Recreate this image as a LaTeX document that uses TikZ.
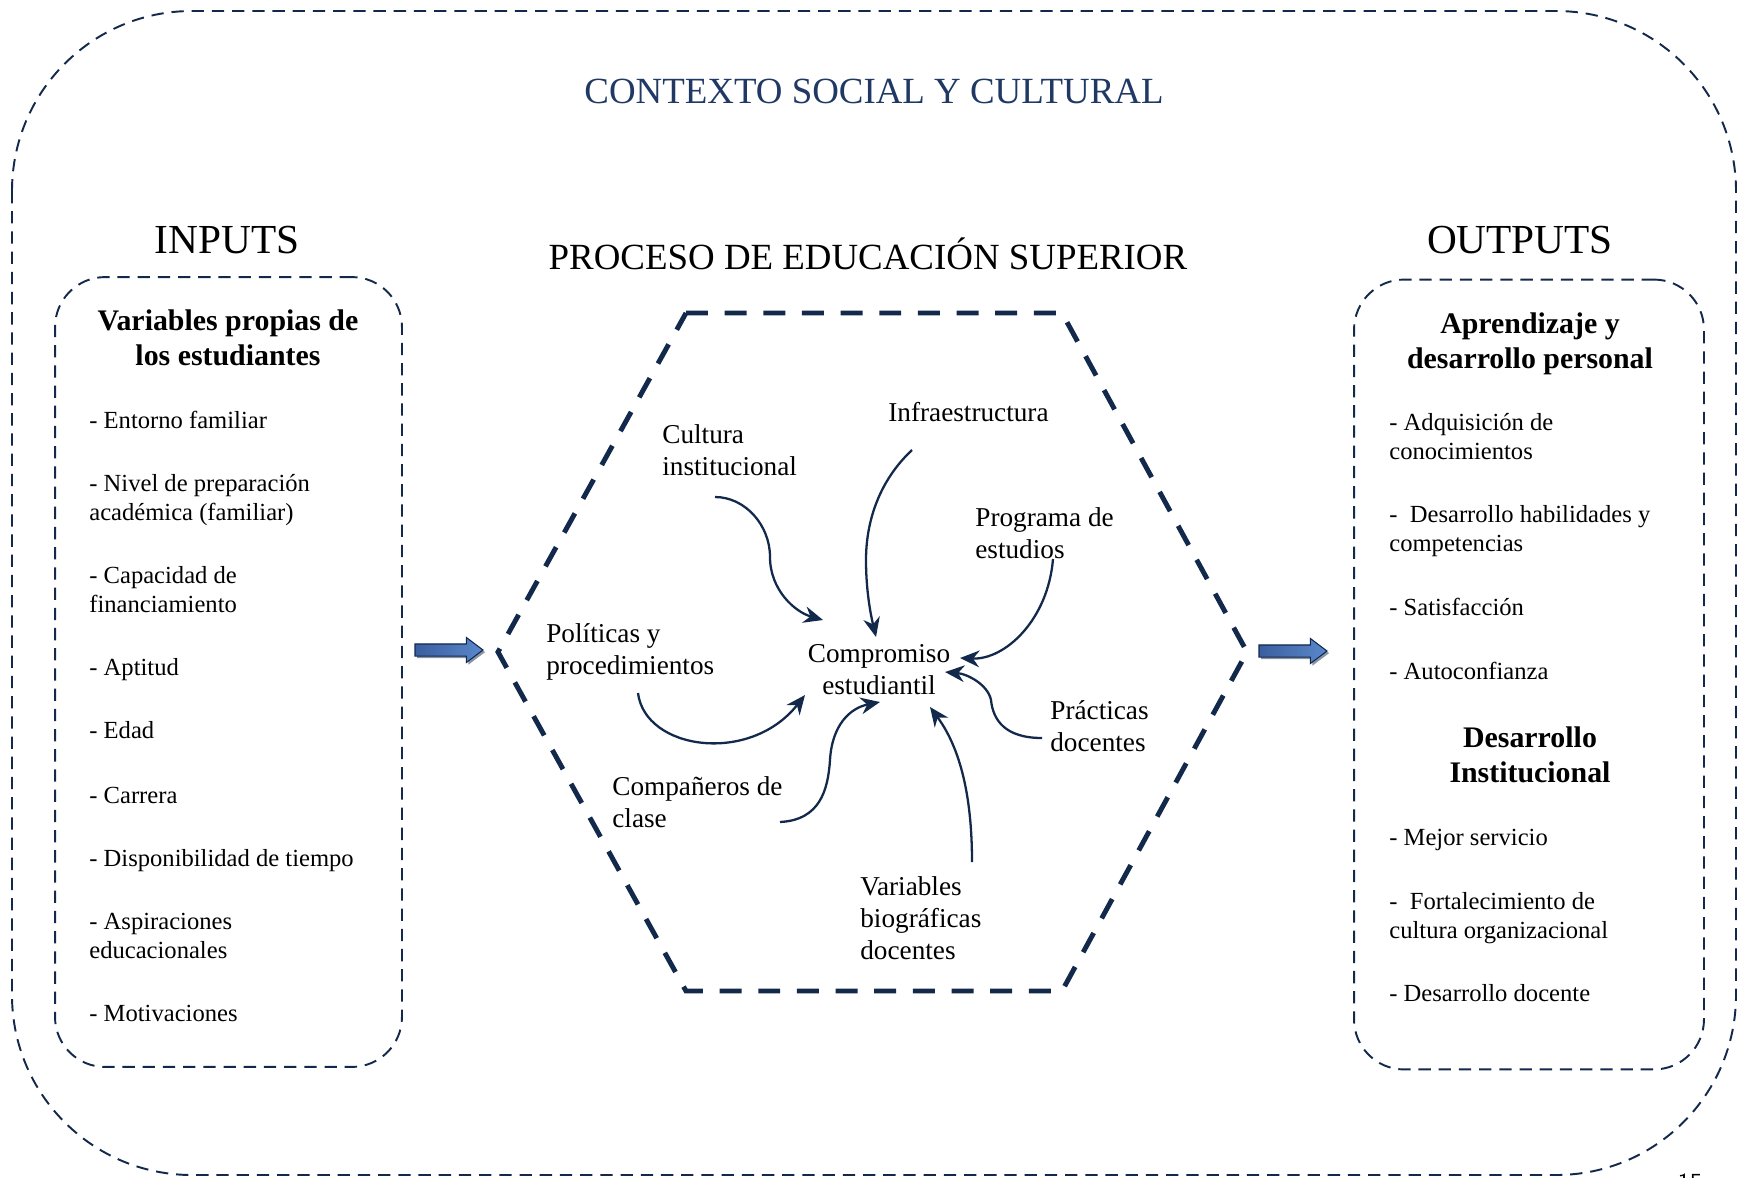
\documentclass[tikz,border=0pt]{standalone}
\usepackage{fontspec}
\setmainfont{Liberation Serif}
\usetikzlibrary{arrows.meta,calc,shapes.arrows,shadows}
\definecolor{azulosc}{HTML}{13294B}
\definecolor{azultit}{HTML}{1F3864}
\definecolor{azulA}{HTML}{3A5F9F}
\definecolor{azulB}{HTML}{5A88CC}

\begin{document}
\begin{tikzpicture}[x=0.02cm, y=-0.02cm]
\tikzset{marco/.style={draw=azulosc, line width=1.1pt, dash pattern=on 7pt off 4.5pt},
caja/.style={marco, rounded corners=1cm, minimum width=6.94cm, minimum height=15.8cm, inner sep=0pt},
hexa/.style={draw=azulosc, line width=2.8pt, dash pattern=on 12.5pt off 9.5pt},
titulo/.style={anchor=base, inner sep=0pt, font=\fontsize{21}{25}\selectfont},
cabeza/.style={anchor=base, align=center, inner sep=0pt, font=\bfseries\fontsize{17}{19.8}\selectfont},
item/.style={anchor=base west, align=left, inner sep=0pt, font=\fontsize{14}{16.4}\selectfont},
factor/.style={anchor=base west, align=left, inner sep=0pt, font=\fontsize{15.5}{18.2}\selectfont},
flecha/.style={draw=azulosc, line width=1.3pt, -{Stealth[length=11pt, width=9.5pt]}},
bloque/.style={single arrow, draw=azulosc, line width=0.6pt, left color=azulA, right color=azulB,
  minimum height=1.36cm, inner sep=0.11cm, single arrow head extend=0.13cm, single arrow tip angle=74,
  drop shadow={shadow xshift=1.2pt, shadow yshift=-1.2pt, fill=azulosc}}}
\useasboundingbox (0,0) rectangle (1738,1177);
\draw[marco, rounded corners=3.6cm] (12,11) rectangle (1736,1175);
\node[titulo, text=azultit] (contexto) at (874,103) {CONTEXTO SOCIAL Y CULTURAL};
\node[titulo, font=\fontsize{23.5}{28}\selectfont] (inputs) at (227,253) {INPUTS};
\node[titulo, font=\fontsize{23.5}{28}\selectfont] (outputs) at (1520,253) {OUTPUTS};
\node[titulo] (proceso) at (868,269) {PROCESO DE EDUCACIÓN SUPERIOR};

\node[caja] (entradas) at (228.5,672) {};
\node[cabeza] (varest) at (228,365) {Variables propias de\\los estudiantes};
\node[item] (e1) at (89,428) {- Entorno familiar};
\node[item] (e2) at (89,520) {- Nivel de preparación\\académica (familiar)};
\node[item] (e3) at (89,612) {- Capacidad de\\financiamiento};
\node[item] (e4) at (89,675) {- Aptitud};
\node[item] (e5) at (89,738) {- Edad};
\node[item] (e6) at (89,803) {- Carrera};
\node[item] (e7) at (89,866) {- Disponibilidad de tiempo};
\node[item] (e8) at (89,958) {- Aspiraciones\\educacionales};
\node[item] (e9) at (89,1021) {- Motivaciones};

\node[caja, minimum width=7cm] (salidas) at (1529,674.5) {};
\node[cabeza] (aprend) at (1530,368) {Aprendizaje y\\desarrollo personal};
\node[item] (s1) at (1389,459) {- Adquisición de\\conocimientos};
\node[item] (s2) at (1389,551) {-\ \ Desarrollo habilidades y\\competencias};
\node[item] (s3) at (1389,615) {- Satisfacción};
\node[item] (s4) at (1389,679) {- Autoconfianza};
\node[cabeza] (desinst) at (1530,782) {Desarrollo\\Institucional};
\node[item] (s5) at (1389,845) {- Mejor servicio};
\node[item] (s6) at (1389,938) {-\ \ Fortalecimiento de\\cultura organizacional};
\node[item] (s7) at (1389,1001) {- Desarrollo docente};

\draw[hexa] (686,313) -- (1062,313) -- (1247,652) -- (1062,991) -- (686,991) -- (498,652) -- cycle;
\node[bloque] (flechaE) at (445,650) {};
\node[bloque] (flechaS) at (1289,651) {};

\node[factor, anchor=base, align=center] (comp) at (879,694) {Compromiso\\estudiantil};
\node[factor] (cultura) at (662,475) {Cultura\\institucional};
\node[factor] (infra) at (888,421) {Infraestructura};
\node[factor] (programa) at (975,558) {Programa de\\estudios};
\node[factor] (politicas) at (546,674) {Políticas y\\procedimientos};
\node[factor] (practicas) at (1050,751) {Prácticas\\docentes};
\node[factor] (companeros) at (612,827) {Compañeros de\\clase};
\node[factor] (variables) at (860,959) {Variables\\biográficas\\docentes};

\coordinate (cul0) at (715,497);
\coordinate (inf0) at (912,450);
\coordinate (pro0) at (1053,559);
\coordinate (pol0) at (638,693);
\coordinate (com0) at (780,822);
\coordinate (pra0) at (1042,738);
\coordinate (var0) at (972,862);
\draw[flecha] (cul0) .. controls (745,497) and (770,525) .. (770,557) .. controls (770,590) and (795,612) .. ($(comp.base)+(-56,-74)$);
\draw[flecha] (inf0) .. controls (880,480) and (866,520) .. (866,560) .. controls (866,595) and (872,620) .. ($(comp.base)+(-3,-57)$);
\draw[flecha] (pro0) .. controls (1048,620) and (1005,660) .. ($(comp.base)+(81,-36)$);
\draw[flecha] (pol0) .. controls (645,750) and (750,765) .. ($(comp.base)+(-74,1)$);
\draw[flecha] (com0) .. controls (820,820) and (828,790) .. (830,760) .. controls (832,725) and (850,708) .. ($(comp.base)+(1,8)$);
\draw[flecha] (pra0) .. controls (1005,738) and (993,720) .. (991,700) .. controls (988,685) and (968,674) .. ($(comp.base)+(66,-22)$);
\draw[flecha] (var0) .. controls (972,790) and (958,745) .. ($(comp.base)+(51,13)$);

\node[anchor=base, inner sep=0pt, font=\sffamily\fontsize{14}{16}\selectfont] (pagina) at (1690,1190) {15};
\end{tikzpicture}
\end{document}
